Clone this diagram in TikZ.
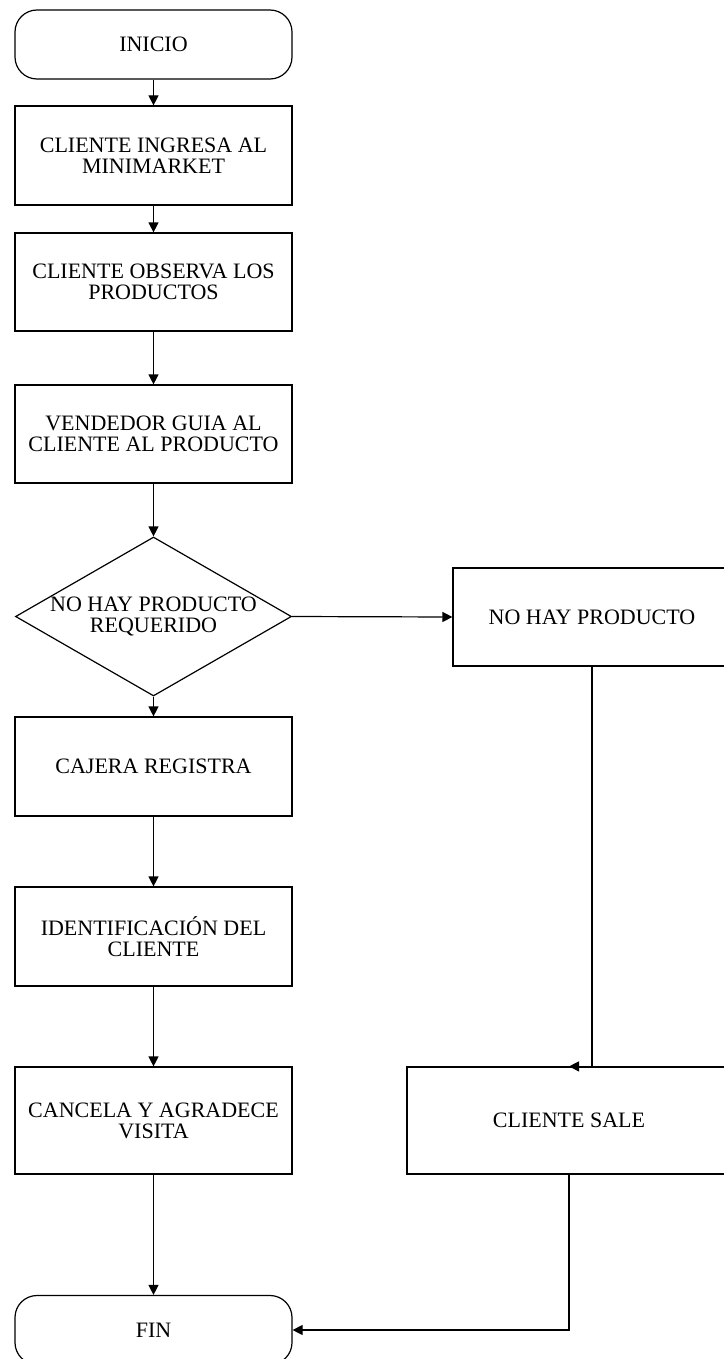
\documentclass[tikz,border=0pt]{standalone}
\usepackage{fontspec}
\setmainfont{Liberation Serif}
\usetikzlibrary{shapes.geometric,arrows.meta}
\begin{document}
\begin{tikzpicture}[x=0.5pt,y=-0.5pt,
  txt/.style={font=\fontsize{11}{10.5}\selectfont, align=center, inner sep=0pt},
  box/.style={draw=black, line width=0.6pt, rectangle, fill=white, txt, minimum width=138.5pt},
  term/.style={box, rounded corners=11pt, minimum height=34.5pt},
  dec/.style={draw=black, line width=0.6pt, diamond, inner sep=0pt, minimum width=138pt, minimum height=79.5pt},
  conn/.style={line width=0.6pt, -{Triangle[length=5pt,width=5pt]}},
  plain/.style={line width=0.6pt}
]
\useasboundingbox (0,0) rectangle (723,1359);
\node[term] (inicio) at (153.5,44.5) {INICIO};
\node[box, minimum height=49.5pt] (ingresa) at (153.5,155.5) {CLIENTE INGRESA AL\\MINIMARKET};
\node[box, minimum height=49pt] (observa) at (153.5,282) {CLIENTE OBSERVA LOS\\PRODUCTOS};
\node[box, minimum height=49pt] (guia) at (153.5,434) {VENDEDOR GUIA AL\\CLIENTE AL PRODUCTO};
\node[dec] (dec) at (153.5,616.5) {};
\node[txt] (dectxt) at (dec.center) {NO HAY PRODUCTO\\REQUERIDO};
\node[box, minimum height=49.5pt] (cajera) at (153.5,766.5) {CAJERA REGISTRA};
\node[box, minimum height=49.5pt] (ident) at (153.5,936.5) {IDENTIFICACIÓN DEL\\CLIENTE};
\node[box, minimum height=53.5pt] (cancela) at (153.5,1120.5) {CANCELA Y AGRADECE\\VISITA};
\node[term] (fin) at (153.5,1330) {FIN};
\node[box, minimum height=49pt, minimum width=139pt] (nohay) at (592,617) {NO HAY PRODUCTO};
\node[box, minimum height=53.5pt, minimum width=162pt] (sale) at (569,1120.5) {CLIENTE SALE};

\draw[conn] (inicio) -- (ingresa);
\draw[conn] (ingresa) -- (observa);
\draw[conn] (observa) -- (guia);
\draw[conn] (guia) -- (dec.north);
\draw[conn] (dec.south) -- (cajera);
\draw[conn] (cajera) -- (ident);
\draw[conn] (ident) -- (cancela);
\draw[conn] (cancela) -- (fin);
\draw[conn] (dec.east) -- (nohay.west);
\draw[conn] (nohay.south) -- (nohay.south |- sale.north) -- (sale.north);
\draw[conn] (sale.south) -- (sale.south |- fin.east) -- (fin.east);
\end{tikzpicture}
\end{document}
